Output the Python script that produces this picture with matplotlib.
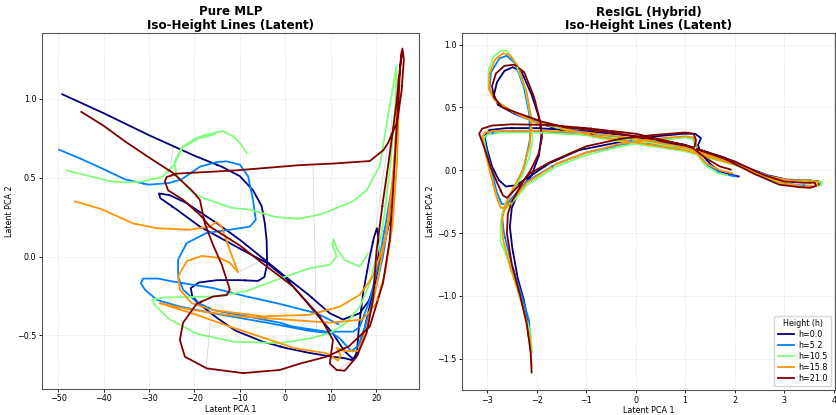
import matplotlib
matplotlib.use("Agg")
import matplotlib.pyplot as plt
import numpy as np

heights = [0.0, 5.2, 10.5, 15.8, 21.0]
labels = ["h=%.1f" % h for h in heights]
colors = [plt.cm.jet(v) for v in np.linspace(0, 1, len(heights))]

# ---- Pure MLP latent paths (one list of segments per height) ----
mlp_h00 = [[(-49.1, 1.03), (-40, 0.91), (-30, 0.77), (-20, 0.64), (-14, 0.57), (-10, 0.51), (-7.1, 0.42),
            (-5.2, 0.32), (-4.5, 0.21), (-4.1, 0.10), (-4.0, -0.05), (-4.6, -0.13), (-6, -0.155), (-10, -0.15),
            (-15, -0.15), (-19, -0.165), (-20.8, -0.2), (-20.5, -0.25), (-19, -0.3), (-15, -0.39), (-11, -0.47),
            (-5, -0.54), (0, -0.58), (5, -0.61), (10, -0.635), (13, -0.645), (15, -0.66), (15.8, -0.6),
            (16.2, -0.45), (17.2, -0.22), (18.6, 0.0), (19.5, 0.12), (20.2, 0.18), (20.6, 0.1), (20.3, -0.08),
            (19.4, -0.2), (18.4, -0.28), (16.4, -0.36), (12.7, -0.40), (9.8, -0.36), (5, -0.24), (0, -0.127),
            (-5, -0.01), (-10, 0.106), (-15, 0.21), (-21.8, 0.34), (-25.5, 0.39), (-27.8, 0.40), (-27.5, 0.37),
            (-24, 0.30), (-18.8, 0.19), (-10, 0.05), (-4.1, -0.04), (0.2, -0.14), (5, -0.3), (10.5, -0.49),
            (13, -0.6), (14.9, -0.65), (16, -0.62), (17.5, -0.45), (19.5, -0.2), (21.5, 0.05), (23.3, 0.26)]]
mlp_h05 = [[(-49.8, 0.678), (-45, 0.62), (-40.4, 0.56), (-35.3, 0.49), (-30.1, 0.456), (-25.7, 0.466),
            (-22.8, 0.49), (-18.8, 0.57), (-15, 0.6), (-12.9, 0.604), (-10, 0.583), (-8.2, 0.51), (-7.1, 0.36),
            (-6.5, 0.233), (-7.8, 0.19), (-12.2, 0.17), (-17.3, 0.15), (-21.7, 0.085), (-23.6, -0.02),
            (-23.6, -0.127), (-22.5, -0.21), (-19.5, -0.29), (-15.9, -0.34), (-8.5, -0.38), (-1.2, -0.42),
            (1.7, -0.445), (9.1, -0.477), (15, -0.477), (16.4, -0.445), (18.6, -0.275), (20.4, -0.064),
            (22, 0.19), (23, 0.36), (23.7, 0.47), (23.2, 0.3), (21.5, 0.0), (19.5, -0.25), (17.5, -0.45),
            (16, -0.57), (14.5, -0.6), (12, -0.52), (10.5, -0.49), (5, -0.47), (-4.1, -0.42), (-15.9, -0.36),
            (-23.2, -0.318), (-28.3, -0.275), (-30.9, -0.21), (-31.8, -0.17), (-31.3, -0.14), (-28, -0.14),
            (-24.7, -0.159), (-15.9, -0.20), (-8.5, -0.254), (-1.9, -0.296), (6.9, -0.36), (11.7, -0.43)]]
mlp_h10 = [[(-48.2, 0.547), (-43, 0.51), (-38.9, 0.48), (-35, 0.47), (-31.6, 0.475), (-27.2, 0.505),
            (-24.5, 0.58), (-22.5, 0.70), (-20, 0.745), (-18.1, 0.767), (-15, 0.79), (-13.7, 0.795),
            (-11.5, 0.763), (-10, 0.72), (-8.5, 0.657)],
           [(-15.5, 0.775), (-19, 0.75), (-22.8, 0.69), (-24.4, 0.6), (-24, 0.52), (-21, 0.42), (-18.8, 0.38),
            (-12, 0.31), (-7.8, 0.297), (-2, 0.25), (3.2, 0.24), (8, 0.27), (14.9, 0.35), (17.9, 0.42),
            (20.8, 0.575), (22.6, 0.89), (24.5, 1.21), (24.3, 1.0), (23.2, 0.6), (22, 0.3), (20.8, 0.09),
            (18.6, -0.17), (16.4, -0.32), (13.5, -0.42), (9.8, -0.487), (5.4, -0.52), (-1.2, -0.55),
            (-11.5, -0.54), (-19.5, -0.49), (-25.4, -0.40), (-28.7, -0.31), (-29.3, -0.275), (-26.9, -0.26),
            (-15.9, -0.254), (-8.5, -0.22), (-1.2, -0.14), (5.4, -0.074), (9.8, -0.053), (11.3, 0.0),
            (10.4, 0.07), (10.6, 0.11), (11.4, 0.05), (13, -0.02), (16.4, -0.064), (18.2, 0.02)]]
mlp_h15 = [[(-46.3, 0.35), (-40.4, 0.30), (-33.5, 0.21), (-28.3, 0.18), (-21, 0.17), (-16.6, 0.19),
            (-15.1, 0.22), (-14, 0.19), (-12.2, 0.04), (-10.4, -0.1), (-12.2, -0.04), (-14.4, -0.01),
            (-18.4, 0.004), (-21.7, -0.03), (-23.6, -0.127), (-23.2, -0.21), (-20.6, -0.296), (-15.9, -0.34),
            (-4.9, -0.38), (5.4, -0.37), (12, -0.318), (16.4, -0.243), (19.3, -0.127), (22, 0.106),
            (23.4, 0.318), (24.2, 0.7), (24.9, 1.13), (25.1, 1.05), (24.6, 0.6), (23.6, 0.2), (22, -0.1),
            (20, -0.3), (17, -0.4), (10, -0.42), (0, -0.40), (-10, -0.38), (-18, -0.35), (-24, -0.32),
            (-27.6, -0.296), (-24, -0.33), (-19.5, -0.37), (-12.2, -0.445), (-1.2, -0.55), (1.7, -0.58),
            (9.1, -0.614), (11.6, -0.66), (12.2, -0.63), (11.3, -0.58), (13, -0.6), (16, -0.6), (18, -0.45),
            (20, -0.2), (22.5, 0.2), (24, 0.6), (24.6, 0.9)]]
mlp_h21 = [[(-44.9, 0.918), (-40, 0.83), (-35, 0.725), (-29.8, 0.625), (-24.7, 0.53), (-20.6, 0.42),
            (-18.8, 0.36), (-17.7, 0.21), (-16, 0.08), (-14, -0.05), (-12.2, -0.21), (-12.9, -0.245),
            (-15.9, -0.254), (-19.5, -0.30), (-22.5, -0.42), (-23.2, -0.53), (-22.1, -0.636), (-17.3, -0.71),
            (-9.3, -0.74), (-1.2, -0.72), (3.2, -0.68), (9.1, -0.636), (14, -0.57), (18.6, -0.445),
            (21.5, -0.17), (23, 0.106), (23.6, 0.36), (24.5, 0.8), (25.3, 1.2), (25.8, 1.32), (26.1, 1.25),
            (25.6, 1.05), (24.6, 0.85), (22.6, 0.72), (21.6, 0.675), (18.6, 0.606), (10.5, 0.59), (3.2, 0.58),
            (-10.7, 0.547), (-23.9, 0.526), (-26.1, 0.505), (-26.5, 0.477), (-25.8, 0.42), (-22.5, 0.36),
            (-18.8, 0.265), (-16.6, 0.19), (-10, 0.07), (-5.6, -0.03), (1.7, -0.19), (7.6, -0.38),
            (10.5, -0.53), (9.8, -0.68), (11.3, -0.72), (13.1, -0.725), (15.7, -0.636), (17.9, -0.487),
            (19.3, -0.275), (20.1, 0.04), (21.5, 0.35), (23, 0.65), (24.5, 0.98), (25.6, 1.3)]]
mlp_paths = [mlp_h00, mlp_h05, mlp_h10, mlp_h15, mlp_h21]

# faint grey links between heights
mlp_links = [[(6.1, 0.58), (6.9, -0.49)], [(-24.7, 0.70), (-25.2, 0.57)], [(-17.4, -0.70), (-16.3, -0.36)],
             [(-10, -0.095), (-4.9, -0.02)], [(11, -0.73), (14.5, -0.66)], [(22.5, 0.7), (18.5, -0.1)],
             [(23.5, 0.9), (20.5, -0.2)]]

# ---- ResIGL latent paths ----
res_h00 = [[(-2.16, -1.32), (-2.2, -1.15), (-2.26, -1.03), (-2.38, -0.86), (-2.49, -0.62), (-2.54, -0.45),
            (-2.5, -0.3), (-2.36, -0.17), (-2.1, -0.04), (-1.95, 0.12), (-1.9, 0.29), (-1.95, 0.42), (-2.1, 0.6),
            (-2.3, 0.78), (-2.48, 0.82), (-2.65, 0.79), (-2.8, 0.7), (-2.86, 0.6), (-2.78, 0.52), (-2.45, 0.45),
            (-2.05, 0.385), (-1.5, 0.32), (-0.8, 0.28), (-0.04, 0.25), (0.97, 0.19), (1.98, 0.06), (2.66, -0.04),
            (3.06, -0.075), (3.46, -0.08), (3.7, -0.09), (3.72, -0.11), (3.6, -0.125), (3.3, -0.125),
            (2.93, -0.1), (2.4, -0.02), (1.8, 0.1), (1.0, 0.2), (0, 0.27), (-1.0, 0.31), (-2.0, 0.335),
            (-2.6, 0.335), (-2.95, 0.32), (-3.05, 0.27), (-3.0, 0.17), (-2.9, 0.03), (-2.76, -0.08),
            (-2.62, -0.13), (-2.42, -0.12), (-2.15, -0.053), (-1.75, 0.053), (-1.14, 0.16), (-0.37, 0.22),
            (0.3, 0.265), (0.97, 0.29), (1.2, 0.29), (1.32, 0.255), (1.26, 0.2), (1.32, 0.13), (1.51, 0.05),
            (1.71, -0.015), (1.98, -0.04), (2.08, -0.05)]]
res_h05 = [[(-2.13, -1.37), (-2.15, -1.2), (-2.3, -1.0), (-2.5, -0.75), (-2.66, -0.5), (-2.7, -0.36),
            (-2.62, -0.26), (-2.45, -0.15), (-2.25, 0.03), (-2.13, 0.25), (-2.15, 0.45), (-2.25, 0.65),
            (-2.43, 0.85), (-2.6, 0.91), (-2.75, 0.89), (-2.92, 0.78), (-2.95, 0.65), (-2.82, 0.55), (-2.5, 0.47),
            (-2.1, 0.4), (-1.5, 0.34), (-0.8, 0.28), (0, 0.23), (1.0, 0.17), (2.0, 0.05), (2.7, -0.05),
            (3.1, -0.08), (3.5, -0.08), (3.74, -0.095), (3.73, -0.115), (3.6, -0.125), (3.3, -0.12),
            (2.95, -0.1), (2.4, -0.01), (1.8, 0.09), (1.0, 0.18), (0, 0.25), (-1.0, 0.29), (-2.0, 0.305),
            (-2.7, 0.305), (-2.98, 0.29), (-3.06, 0.25), (-3.0, 0.14), (-2.9, -0.02), (-2.8, -0.18),
            (-2.7, -0.27), (-2.6, -0.27), (-2.45, -0.2), (-2.2, -0.09), (-1.6, 0.05), (-1.0, 0.14), (-0.3, 0.2),
            (0.4, 0.24), (1.0, 0.265), (1.17, 0.25), (1.22, 0.2), (1.23, 0.14), (1.45, 0.04), (1.75, -0.03),
            (2.02, -0.05)]]
res_h10 = [[(-2.09, -1.45), (-2.12, -1.3), (-2.35, -1.0), (-2.55, -0.75), (-2.73, -0.56), (-2.72, -0.4),
            (-2.65, -0.28), (-2.5, -0.17), (-2.3, -0.05), (-2.15, 0.1), (-2.08, 0.24), (-2.12, 0.42),
            (-2.22, 0.64), (-2.42, 0.85), (-2.6, 0.95), (-2.72, 0.95), (-2.87, 0.9), (-2.97, 0.8), (-2.97, 0.66),
            (-2.85, 0.56), (-2.5, 0.47), (-2.1, 0.39), (-1.5, 0.33), (-0.8, 0.26), (0, 0.21), (1.0, 0.15),
            (2.0, 0.04), (2.7, -0.055), (3.1, -0.085), (3.5, -0.085), (3.77, -0.098), (3.74, -0.12),
            (3.6, -0.13), (3.3, -0.125), (2.95, -0.105), (2.4, -0.02), (1.8, 0.08), (1.0, 0.17), (0, 0.24),
            (-1.0, 0.28), (-2.0, 0.3), (-2.7, 0.3), (-2.98, 0.285), (-3.07, 0.26), (-3.02, 0.14), (-2.93, -0.02),
            (-2.83, -0.18), (-2.74, -0.29), (-2.63, -0.31), (-2.45, -0.24), (-2.2, -0.12), (-1.6, 0.03),
            (-1.0, 0.12), (-0.3, 0.19), (0.4, 0.235), (1.0, 0.26), (1.15, 0.25), (1.2, 0.2), (1.22, 0.14),
            (1.4, 0.04), (1.65, -0.02), (1.85, -0.04)]]
res_h15 = [[(-2.1, -1.56), (-2.13, -1.35), (-2.3, -1.05), (-2.52, -0.78), (-2.68, -0.55), (-2.7, -0.4),
            (-2.62, -0.27), (-2.48, -0.15), (-2.28, 0.0), (-2.14, 0.2), (-2.1, 0.4), (-2.2, 0.62), (-2.38, 0.83),
            (-2.55, 0.92), (-2.68, 0.93), (-2.84, 0.88), (-2.95, 0.77), (-2.96, 0.64), (-2.83, 0.55), (-2.5, 0.47),
            (-2.08, 0.39), (-1.5, 0.335), (-0.8, 0.27), (0, 0.22), (1.0, 0.16), (2.0, 0.045), (2.7, -0.05),
            (3.1, -0.08), (3.5, -0.08), (3.72, -0.095), (3.7, -0.115), (3.58, -0.125), (3.3, -0.125),
            (2.95, -0.1), (2.4, -0.015), (1.8, 0.085), (1.0, 0.18), (0, 0.25), (-1.0, 0.3), (-2.0, 0.315),
            (-2.75, 0.315), (-3.05, 0.3), (-3.1, 0.26), (-3.03, 0.13), (-2.93, -0.03), (-2.82, -0.2),
            (-2.72, -0.3), (-2.62, -0.3), (-2.45, -0.22), (-2.2, -0.1), (-1.6, 0.05), (-1.0, 0.14), (-0.3, 0.21),
            (0.4, 0.25), (1.0, 0.27), (1.17, 0.26), (1.22, 0.21), (1.21, 0.15), (1.4, 0.06), (1.7, 0.0),
            (1.95, -0.025)]]
res_h21 = [[(-2.1, -1.61), (-2.12, -1.45), (-2.2, -1.22), (-2.33, -1.0), (-2.5, -0.75), (-2.6, -0.5),
            (-2.58, -0.35), (-2.5, -0.25), (-2.33, -0.13), (-2.12, 0.0), (-1.96, 0.13), (-1.89, 0.26),
            (-1.92, 0.37), (-2.05, 0.58), (-2.25, 0.78), (-2.45, 0.84), (-2.65, 0.83), (-2.82, 0.77), (-2.9, 0.67),
            (-2.86, 0.58), (-2.69, 0.5), (-2.42, 0.46), (-1.88, 0.385), (-1.4, 0.34), (-0.7, 0.31), (0, 0.27),
            (1.0, 0.2), (2.0, 0.07), (2.6, -0.04), (3.0, -0.09), (3.4, -0.1), (3.62, -0.1), (3.65, -0.125),
            (3.53, -0.14), (3.3, -0.135), (2.9, -0.115), (2.4, -0.03), (1.8, 0.09), (1.0, 0.2), (0, 0.29),
            (-1.0, 0.335), (-1.8, 0.36), (-2.5, 0.365), (-2.9, 0.355), (-3.1, 0.33), (-3.16, 0.29),
            (-3.06, 0.185), (-2.93, 0.026), (-2.79, -0.106), (-2.68, -0.2), (-2.6, -0.22), (-2.4, -0.14),
            (-2.15, -0.03), (-1.75, 0.06), (-1.0, 0.19), (-0.3, 0.25), (0.37, 0.28), (1.0, 0.3), (1.17, 0.29),
            (1.22, 0.24), (1.18, 0.17), (1.4, 0.1), (1.7, 0.03), (1.92, 0.005)]]
res_paths = [res_h00, res_h05, res_h10, res_h15, res_h21]


def draw_paths(ax, paths):
    for segs, c, lab in zip(paths, colors, labels):
        for k, seg in enumerate(segs):
            xs = [p[0] for p in seg]
            ys = [p[1] for p in seg]
            ax.plot(xs, ys, color=c, lw=1.3, label=lab if k == 0 else None, zorder=3)
            # small direction arrows along the path
            for i in range(3, len(seg) - 1, 9):
                ax.annotate("", xy=seg[i + 1], xytext=seg[i],
                            arrowprops=dict(arrowstyle="-|>", color=c, lw=0.01, mutation_scale=5),
                            zorder=4)


fig = plt.figure(figsize=(8.36, 4.15), dpi=100)
ax1 = fig.add_axes([0.050, 0.063, 0.451, 0.858])
ax2 = fig.add_axes([0.553, 0.060, 0.446, 0.860])

for seg in mlp_links:
    ax1.plot([p[0] for p in seg], [p[1] for p in seg], color="#bbbbbb", lw=0.6, alpha=0.6, zorder=2)
draw_paths(ax1, mlp_paths)
draw_paths(ax2, res_paths)

ax1.set_xlim(-53.6, 29.4)
ax1.set_ylim(-0.84, 1.42)
ax1.set_xticks([-50, -40, -30, -20, -10, 0, 10, 20])
ax1.set_yticks([-0.5, 0.0, 0.5, 1.0])
ax2.set_xlim(-3.5, 4.03)
ax2.set_ylim(-1.75, 1.09)
ax2.set_xticks([-3, -2, -1, 0, 1, 2, 3, 4])
ax2.set_yticks([-1.5, -1.0, -0.5, 0.0, 0.5, 1.0])

for ax, ttl in [(ax1, "Pure MLP\nIso-Height Lines (Latent)"), (ax2, "ResIGL (Hybrid)\nIso-Height Lines (Latent)")]:
    ax.set_title(ttl, fontsize=8.6, fontweight="bold", linespacing=1.05, pad=3)
    ax.set_xlabel("Latent PCA 1", fontsize=5.8, labelpad=1)
    ax.set_ylabel("Latent PCA 2", fontsize=5.8, labelpad=2)
    ax.tick_params(labelsize=5.8, length=2.5, width=0.6, pad=1.5)
    ax.grid(True, ls="--", lw=0.5, alpha=0.3)
    for s in ax.spines.values():
        s.set_color("#555555")

ax2.legend(title="Height (h)", loc="lower right", fontsize=5.8, title_fontsize=5.8,
           handlelength=2.0, borderpad=0.4, labelspacing=0.25, handletextpad=0.6)

fig.savefig("out.png", dpi=100)
